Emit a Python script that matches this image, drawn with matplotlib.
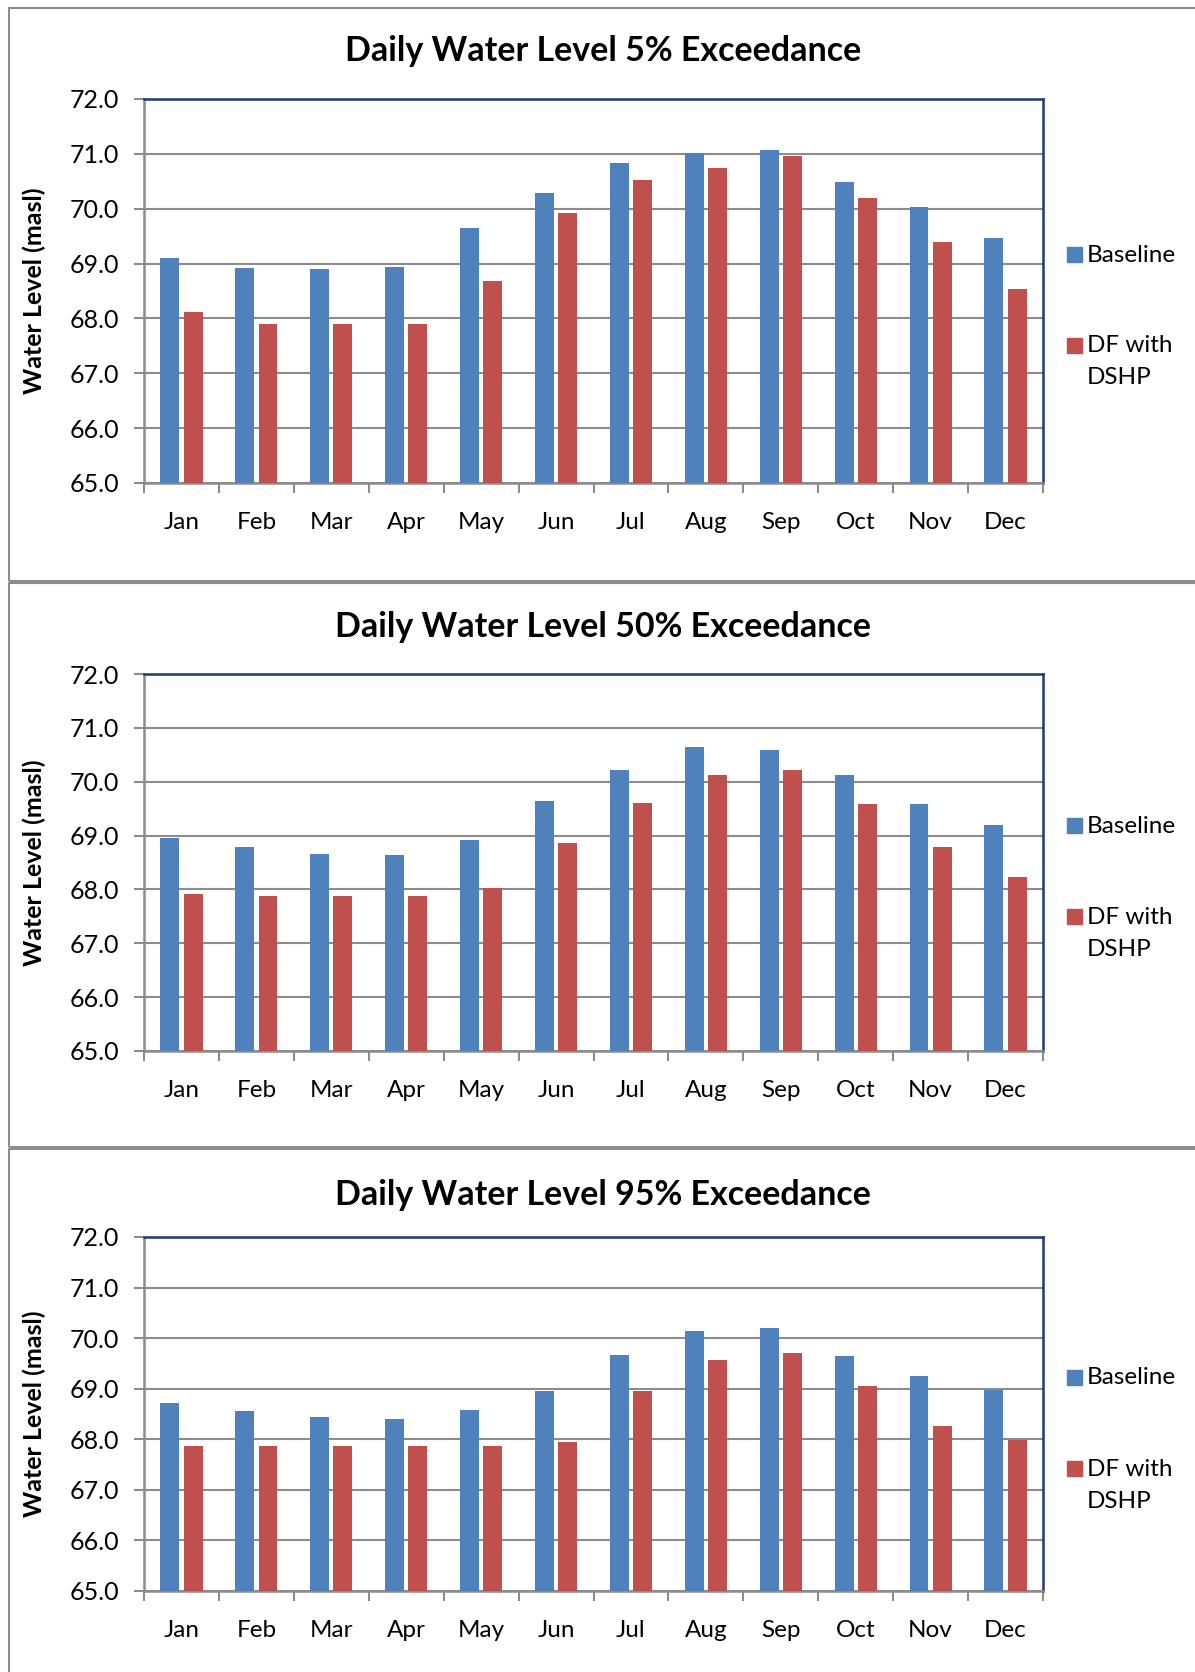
import matplotlib
matplotlib.use('Agg')
import matplotlib.pyplot as plt
from matplotlib.patches import Rectangle
import numpy as np

plt.rcParams['font.family'] = ['Lato', 'DejaVu Sans']

# Data
months = ['Jan', 'Feb', 'Mar', 'Apr', 'May', 'Jun', 'Jul', 'Aug', 'Sep', 'Oct', 'Nov', 'Dec']
titles = ['Daily Water Level 5% Exceedance',
          'Daily Water Level 50% Exceedance',
          'Daily Water Level 95% Exceedance']
baseline_5 = [69.11, 68.92, 68.91, 68.94, 69.64, 70.29, 70.84, 71.01, 71.07, 70.48, 70.04, 69.46]
dshp_5 = [68.12, 67.89, 67.89, 67.89, 68.68, 69.92, 70.52, 70.75, 70.97, 70.20, 69.39, 68.54]
baseline_50 = [68.96, 68.78, 68.66, 68.63, 68.91, 69.65, 70.22, 70.64, 70.58, 70.13, 69.59, 69.20]
dshp_50 = [67.92, 67.88, 67.88, 67.88, 68.03, 68.86, 69.61, 70.13, 70.21, 69.59, 68.79, 68.23]
baseline_95 = [68.71, 68.55, 68.44, 68.40, 68.58, 68.95, 69.66, 70.15, 70.21, 69.65, 69.25, 68.97]
dshp_95 = [67.87, 67.87, 67.87, 67.87, 67.87, 67.94, 68.95, 69.56, 69.70, 69.05, 68.27, 67.98]
series = [(baseline_5, dshp_5), (baseline_50, dshp_50), (baseline_95, dshp_95)]

BLUE = '#4F81BD'
RED = '#C0504D'
GRID = '#8C8C8C'
NAVY = '#1F3A6E'

W, H = 1195, 1672
fig = plt.figure(figsize=(W / 100, H / 100), dpi=100)


def rect(left, top, right, bottom):
    return [left / W, 1 - bottom / H, (right - left) / W, (bottom - top) / H]


# panel layout in pixels: (box top, box bottom, axes top, axes bottom, title y, legend y)
panels = [
    (7.5, 581, 99, 483, 51, 255),
    (583, 1147, 674, 1051, 627, 826),
    (1149, 1690, 1237, 1591, 1195, 1378),
]

x = np.arange(len(months))
for (base, dshp), title, (btop, bbot, atop, abot, ty, ly) in zip(series, titles, panels):
    # chart border
    fig.add_artist(Rectangle((8.5 / W, 1 - bbot / H), (W + 10) / W, (bbot - btop) / H,
                             transform=fig.transFigure, fill=False, edgecolor='#8C8C8C', lw=1.5))

    ax = fig.add_axes(rect(144, atop, 1043, abot))
    ax.bar(x - 0.155, base, width=0.253, color=BLUE, zorder=3)
    ax.bar(x + 0.155, dshp, width=0.253, color=RED, zorder=3)
    ax.set_ylim(65, 72)
    ax.set_xlim(-0.5, 11.5)
    ax.set_yticks(np.arange(65, 72.01, 1.0))
    ax.set_yticklabels(['%.1f' % v for v in np.arange(65, 72.01, 1.0)], fontsize=18)
    ax.set_xticks(np.arange(-0.5, 12, 1.0))
    ax.set_xticklabels([])
    ax.set_xticks(x, minor=True)
    ax.set_xticklabels(months, minor=True, fontsize=17.5)
    ax.tick_params(axis='x', which='major', length=7, color=GRID, width=1.5, direction='out')
    ax.tick_params(axis='x', which='minor', length=0, pad=21)
    ax.tick_params(axis='y', length=7, color=GRID, width=1.5, pad=11)
    ax.grid(axis='y', color=GRID, lw=1.5, zorder=0)
    ax.set_axisbelow(True)
    for s in ['top', 'right']:
        ax.spines[s].set_color(NAVY)
        ax.spines[s].set_linewidth(1.8)
    for s in ['left', 'bottom']:
        ax.spines[s].set_color(GRID)
        ax.spines[s].set_linewidth(1.8)

    fig.text(34 / W, 1 - (atop + abot) / 2 / H, 'Water Level (masl)', rotation=90,
             ha='center', va='center', fontsize=18, fontweight='bold')
    fig.text(603 / W, 1 - ty / H, title, ha='center', va='center', fontsize=24.5, fontweight='bold')

    # legend
    fig.add_artist(Rectangle((1067 / W, 1 - (ly + 7) / H), 15 / W, 15 / H,
                             transform=fig.transFigure, color=BLUE))
    fig.text(1087 / W, 1 - ly / H, 'Baseline', ha='left', va='center', fontsize=17.5)
    fig.add_artist(Rectangle((1067 / W, 1 - (ly + 98) / H), 15 / W, 15 / H,
                             transform=fig.transFigure, color=RED))
    fig.text(1087 / W, 1 - (ly + 91) / H, 'DF with', ha='left', va='center', fontsize=17.5)
    fig.text(1087 / W, 1 - (ly + 123) / H, 'DSHP', ha='left', va='center', fontsize=17.5)

fig.savefig('out.png', dpi=100)
